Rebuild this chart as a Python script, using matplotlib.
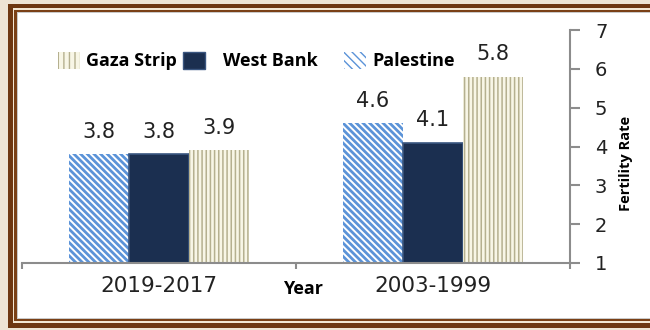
import matplotlib.pyplot as plt
from matplotlib.patches import Rectangle, Patch
import numpy as np

#%% Data
periods = ['2019-2017', '2003-1999']
palestine = [3.8, 4.6]
west_bank = [3.8, 4.1]
gaza = [3.9, 5.8]

W, H = 650, 330
fig = plt.figure(figsize=(W/100, H/100), dpi=100)
fig.patch.set_facecolor('#eee4d4')

def box(x0, y0, x1, y1, color):
    # pixel box -> figure fraction
    fig.add_artist(Rectangle((x0/W, 1 - y1/H), (x1 - x0)/W, (y1 - y0)/H,
                             transform=fig.transFigure, facecolor=color,
                             edgecolor='none', zorder=-10))

# brown double frame
box(8, 4, 660, 328, '#6e3711')
box(12.5, 8, 660, 323, '#f3e6d2')
box(14.5, 10, 660, 320.5, '#7a4016')
box(16.5, 12, 660, 318.5, '#c9c9c9')
box(17.5, 13, 660, 317.5, 'white')

ax = fig.add_axes([22/W, 67/H, 548/W, 233/H])
ax.set_facecolor('none')

x = np.arange(len(periods))
w = 0.22
pal_hatch = '\\' * 5
gaza_hatch = '|' * 4

with plt.rc_context({'hatch.linewidth': 2.0}):
    ax.bar(x - w, np.array(palestine) - 1, w, bottom=1, color='white',
           edgecolor='#5b93d8', hatch=pal_hatch, linewidth=0)
ax.bar(x, np.array(west_bank) - 1, w, bottom=1, color='#1b2f50',
       edgecolor='#3a5680', linewidth=1.2)
with plt.rc_context({'hatch.linewidth': 1.1}):
    ax.bar(x + w, np.array(gaza) - 1, w, bottom=1, color='#f8f6e6',
           edgecolor='#b5b08f', hatch=gaza_hatch, linewidth=0)

# value labels
for off, vals in [(-w, palestine), (0, west_bank), (w, gaza)]:
    for xi, v in zip(x, vals):
        ax.text(xi + off, v + 0.32, f'{v}', ha='center', va='bottom',
                fontsize=15, family='DejaVu Sans', color='#222222')

ax.set_xlim(-0.5, 1.5)
ax.set_ylim(1, 7)

ax.spines['top'].set_visible(False)
ax.spines['left'].set_visible(False)
for s in ['bottom', 'right']:
    ax.spines[s].set_color('#8c8c8c')
    ax.spines[s].set_linewidth(1.5)

ax.yaxis.tick_right()
ax.set_yticks(range(1, 8))
ax.tick_params(axis='y', direction='out', length=7, width=1.5, color='#8c8c8c',
               labelsize=14, pad=11)
ax.set_xticks(x)
ax.set_xticklabels(periods)
ax.tick_params(axis='x', length=0, labelsize=15.5, pad=9)
ax.set_xticks([-0.5, 0.5, 1.5], minor=True)
ax.tick_params(axis='x', which='minor', length=4, width=1.5, color='#8c8c8c')
for lab in ax.get_xticklabels() + ax.get_yticklabels():
    lab.set_family('DejaVu Sans')
    lab.set_color('#222222')

fig.text(626/W, 1 - 163/H, 'Fertility Rate', rotation=90, ha='center',
         va='center', fontsize=10.5, fontweight='bold', family='Open Sans')
fig.text(303/W, 1 - 289/H, 'Year', ha='center', va='center', fontsize=13,
         fontweight='bold', family='Open Sans')

# legend entries, placed one by one
with plt.rc_context({'hatch.linewidth': 1.1}):
    h_gaza = Patch(facecolor='#f8f6e6', edgecolor='#b5b08f', hatch='|||', linewidth=0)
h_wb = Patch(facecolor='#1b2f50', edgecolor='#3a5680', linewidth=1)
with plt.rc_context({'hatch.linewidth': 1.5}):
    h_pal = Patch(facecolor='white', edgecolor='#5b93d8', hatch='\\\\\\\\', linewidth=0)

for h, name, px in [(h_gaza, 'Gaza Strip', 58), (h_wb, 'West Bank', 183),
                    (h_pal, 'Palestine', 344)]:
    fig.legend([h], [name], loc='center left', bbox_to_anchor=(px/W, 1 - 61/H),
               frameon=False, handlelength=1.2, handleheight=1.1,
               handletextpad=0.35 if name != 'West Bank' else 1.0,
               borderpad=0, borderaxespad=0,
               prop={'family': 'Open Sans', 'weight': 'bold', 'size': 13})

fig.savefig('out.png', dpi=100, facecolor=fig.get_facecolor())
